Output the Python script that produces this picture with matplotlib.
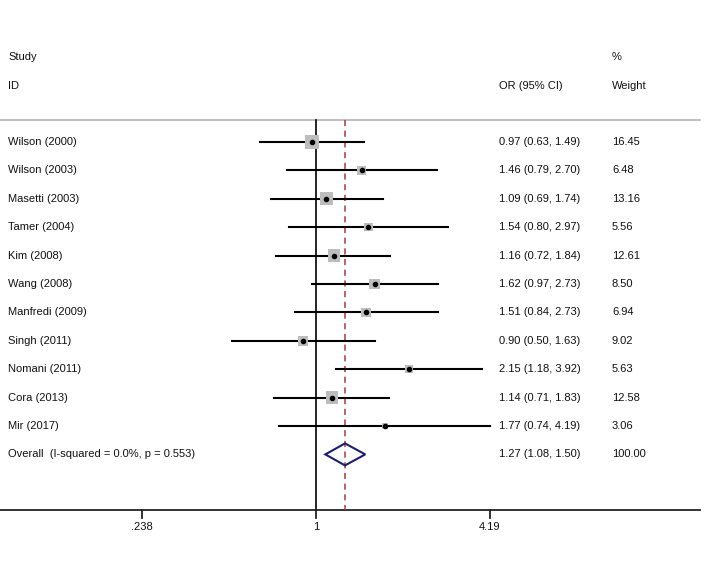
import matplotlib
matplotlib.use('Agg')
import matplotlib.pyplot as plt
from matplotlib.patches import Polygon
import numpy as np

plt.rcParams['font.family'] = ['Liberation Sans', 'DejaVu Sans']

studies = ['Wilson (2000)', 'Wilson (2003)', 'Masetti (2003)', 'Tamer (2004)', 'Kim (2008)',
           'Wang (2008)', 'Manfredi (2009)', 'Singh (2011)', 'Nomani (2011)', 'Cora (2013)', 'Mir (2017)']
odds = [0.97, 1.46, 1.09, 1.54, 1.16, 1.62, 1.51, 0.90, 2.15, 1.14, 1.77]
ci_lo = [0.63, 0.79, 0.69, 0.80, 0.72, 0.97, 0.84, 0.50, 1.18, 0.71, 0.74]
ci_hi = [1.49, 2.70, 1.74, 2.97, 1.84, 2.73, 2.73, 1.63, 3.92, 1.83, 4.19]
weights = [16.45, 6.48, 13.16, 5.56, 12.61, 8.50, 6.94, 9.02, 5.63, 12.58, 3.06]
overall_label = 'Overall  (I-squared = 0.0%, p = 0.553)'
overall = [1.27, 1.08, 1.50]
overall_weight = 100.00
xticks = [0.238, 1, 4.19]
xtick_labels = ['.238', '1', '4.19']

W, H = 720, 567
fig = plt.figure(figsize=(W / 100, H / 100), dpi=100)
ax = fig.add_axes([0, 0, 1, 1])
ax.set_xscale('log')
# x: pixel 316 -> OR 1, 121.4 px per natural-log unit
ax.set_xlim(np.exp(-316 / 121.4), np.exp((W - 316) / 121.4))
ax.set_ylim(H, 0)
ax.axis('off')

def row_y(i):
    return 142 + 28.4 * i

fs = 8
txt = dict(fontsize=fs, va='center', color='#111111')
trans = ax.get_yaxis_transform()  # x in axes fraction, y in data
def tx(px):
    return px / W

# headers
ax.text(tx(8), 57, 'Study', transform=trans, ha='left', **txt)
ax.text(tx(8), 86, 'ID', transform=trans, ha='left', **txt)
ax.text(tx(499), 86, 'OR (95% CI)', transform=trans, ha='left', **txt)
ax.text(tx(612), 57, '%', transform=trans, ha='left', **txt)
ax.text(tx(612), 86, 'Weight', transform=trans, ha='left', **txt)

# separator and bottom axis lines
ax.plot([0, tx(700)], [120, 120], transform=trans, color='#b4b4b4', lw=1.2)
ax.plot([0, tx(700)], [510, 510], transform=trans, color='#222222', lw=1.3)

# reference lines
ax.plot([1, 1], [120, 510], color='black', lw=1.2)
ax.plot([overall[0], overall[0]], [120, 510], color='#a8383a', lw=1.1, ls=(0, (4, 3)))

for i, (s, o, lo, hi, w) in enumerate(zip(studies, odds, ci_lo, ci_hi, weights)):
    y = row_y(i)
    ax.plot([lo, hi], [y, y], color='black', lw=1.5, zorder=3)
    ax.scatter([o], [y], marker='s', s=6.4 * w, color='#bdbdbd', edgecolors='none', zorder=4)
    ax.scatter([o], [y], marker='o', s=9, color='black', zorder=5)
    ax.text(tx(8), y, s, transform=trans, ha='left', **txt)
    ax.text(tx(499), y, '%.2f (%.2f, %.2f)' % (o, lo, hi), transform=trans, ha='left', **txt)
    ax.text(tx(612), y, '%.2f' % w, transform=trans, ha='left', **txt)

# overall diamond
yo = row_y(len(studies))
diamond = Polygon([[overall[1], yo], [overall[0], yo - 11], [overall[2], yo], [overall[0], yo + 11]],
                  closed=True, fill=False, edgecolor='#1c1c78', lw=1.5, zorder=5)
ax.add_patch(diamond)
ax.text(tx(8), yo, overall_label, transform=trans, ha='left', **txt)
ax.text(tx(499), yo, '%.2f (%.2f, %.2f)' % tuple(overall), transform=trans, ha='left', **txt)
ax.text(tx(612), yo, '%.2f' % overall_weight, transform=trans, ha='left', **txt)

# ticks
for t, lab in zip(xticks, xtick_labels):
    ax.plot([t, t], [510, 518], color='#222222', lw=1.3)
    ax.text(t, 527, lab, ha='center', va='center', fontsize=fs, color='#111111')

fig.savefig('out.png', dpi=100)
